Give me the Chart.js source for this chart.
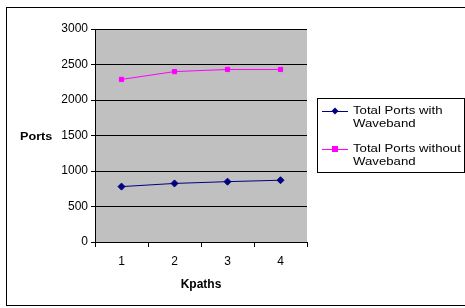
<!DOCTYPE html>
<html>
<head>
<meta charset="utf-8">
<script src="https://cdn.jsdelivr.net/npm/chart.js@4"></script>
<style>
  html, body { margin: 0; padding: 0; background: #fff; }
  #wrap { width: 465px; height: 308px; position: relative; }
</style>
</head>
<body>
<div id="wrap"><canvas id="chart" width="465" height="308"></canvas></div>
<script>
const kpaths = ["1", "2", "3", "4"]
const withWaveband = [780, 825, 850, 870]
const withoutWaveband = [2290, 2400, 2430, 2430]
const yTicks = [0, 500, 1000, 1500, 2000, 2500, 3000]

const font = "Liberation Sans, Arial, sans-serif"

// text in the original is a bit wider than plain Arial, stretch it sideways
function wideText(c, text, x, y, sx) {
    c.save()
    c.translate(x, y)
    c.scale(sx, 1)
    c.fillText(text, 0, 0)
    c.restore()
}

// grey plot area, outer frame, horizontal "Ports" title and the boxed legend
const decor = {
    id: "decor",
    beforeDraw(chart) {
        const c = chart.ctx
        const a = chart.chartArea
        c.save()
        c.fillStyle = "#c0c0c0"
        c.fillRect(a.left, a.top, a.right - a.left, a.bottom - a.top)
        c.restore()
    },
    afterDraw(chart) {
        const c = chart.ctx
        c.save()
        c.strokeStyle = "#000"
        c.lineWidth = 1
        c.strokeRect(6.5, 7.5, 470, 298)

        c.fillStyle = "#000"
        c.font = "bold 11px " + font
        c.textBaseline = "middle"
        c.textAlign = "left"
        wideText(c, "Ports", 20, 137, 1.15)

        // legend
        c.fillStyle = "#fff"
        c.fillRect(317.5, 98.5, 147, 74)
        c.strokeRect(317.5, 98.5, 147, 74)
        const rows = [
            { ds: chart.data.datasets[0], y: 111, lines: ["Total Ports with", "Waveband"] },
            { ds: chart.data.datasets[1], y: 149, lines: ["Total Ports without", "Waveband"] }
        ]
        c.font = "11px " + font
        rows.forEach(r => {
            c.strokeStyle = r.ds.borderColor
            c.beginPath()
            c.moveTo(322, r.y + 0.5)
            c.lineTo(348, r.y + 0.5)
            c.stroke()
            c.fillStyle = r.ds.pointBackgroundColor
            if (r.ds.pointStyle === "rectRot") {
                c.beginPath()
                c.moveTo(335, r.y - 3.5)
                c.lineTo(338.5, r.y)
                c.lineTo(335, r.y + 3.5)
                c.lineTo(331.5, r.y)
                c.closePath()
                c.fill()
            } else {
                c.fillRect(332, r.y - 3, 6, 6)
            }
            c.fillStyle = "#000"
            wideText(c, r.lines[0], 353, r.y, 1.2)
            wideText(c, r.lines[1], 353, r.y + 13, 1.2)
        })
        c.restore()
    }
}

const ctx = document.getElementById("chart").getContext("2d")

new Chart(ctx, {
    type: "line",
    data: {
        labels: kpaths,
        datasets: [
            {
                label: "Total Ports with Waveband",
                data: withWaveband,
                borderColor: "#000080",
                backgroundColor: "#000080",
                pointBackgroundColor: "#000080",
                pointBorderColor: "#000080",
                pointStyle: "rectRot",
                pointRadius: 3.5,
                borderWidth: 1,
                tension: 0
            },
            {
                label: "Total Ports without Waveband",
                data: withoutWaveband,
                borderColor: "#ff00ff",
                backgroundColor: "#ff00ff",
                pointBackgroundColor: "#ff00ff",
                pointBorderColor: "#ff00ff",
                pointStyle: "rect",
                pointRadius: 3,
                borderWidth: 1,
                tension: 0
            }
        ]
    },
    options: {
        responsive: false,
        animation: false,
        devicePixelRatio: 1,
        layout: { padding: { top: 29, right: 158, left: 0, bottom: 12 } },
        plugins: {
            legend: { display: false },
            tooltip: { enabled: false }
        },
        scales: {
            x: {
                offset: true,
                grid: {
                    display: true,
                    offset: true,
                    drawOnChartArea: false,
                    drawTicks: true,
                    tickLength: 5,
                    color: "#000"
                },
                border: { display: true, color: "#000", width: 1 },
                ticks: { color: "#000", font: { family: font, size: 12 }, padding: 7 },
                title: {
                    display: true,
                    text: "Kpaths",
                    color: "#000",
                    font: { family: font, size: 12, weight: "bold" },
                    padding: { top: 4 }
                },
                afterFit(scale) { scale.height = 54 }
            },
            y: {
                min: 0,
                max: 3000,
                afterBuildTicks(scale) { scale.ticks = yTicks.map(v => ({ value: v })) },
                grid: {
                    color: "#000",
                    drawTicks: true,
                    tickLength: 4,
                    lineWidth: 1
                },
                border: { display: true, color: "#000", width: 1 },
                ticks: {
                    color: "#000",
                    font: { family: font, size: 12 },
                    padding: 3,
                    callback: v => String(v)
                },
                afterFit(scale) { scale.width = 95 }
            }
        }
    },
    plugins: [decor]
})
</script>
</body>
</html>
